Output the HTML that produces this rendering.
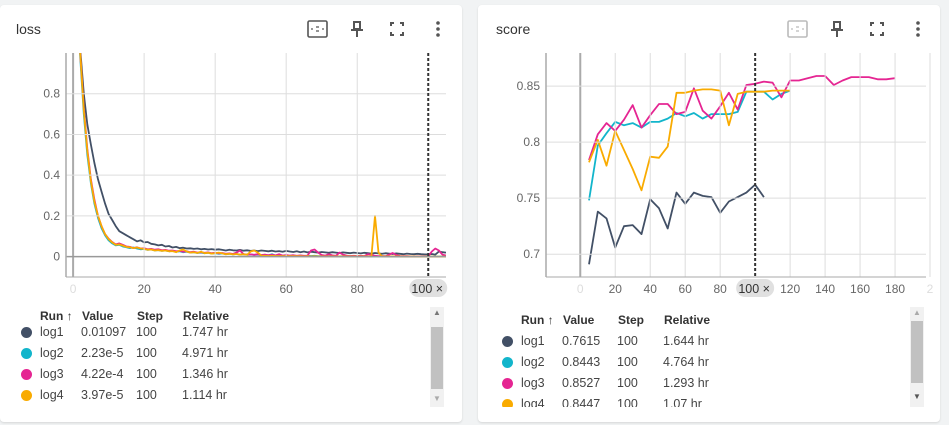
<!DOCTYPE html>
<html><head><meta charset="utf-8">
<style>
body{margin:0;width:949px;height:425px;background:#f1f3f4;font-family:"Liberation Sans",sans-serif;position:relative;overflow:hidden}
.card{position:absolute;background:#fff;border-radius:4px;box-shadow:0 1px 2px rgba(0,0,0,.12)}
.t{position:absolute;font-size:13px;color:#333;white-space:nowrap}
.h{font-weight:bold;color:#333;font-size:12px}
.r{font-size:12.5px;color:#444}
.dot{position:absolute;width:11px;height:11px;border-radius:50%}
.sb{position:absolute;width:14px;background:#f1f1f1}
.sb div{position:absolute;left:1px;width:12px;background:#c1c1c1}
svg{position:absolute;left:0;top:0}
</style></head><body>
<div class="card" style="left:0;top:5px;width:462px;height:417px"></div>
<div class="card" style="left:478px;top:5px;width:462px;height:417px"></div>
<div class="t" style="left:16px;top:21px;font-size:14px">loss</div>
<div class="t" style="left:496px;top:21px;font-size:14px">score</div>
<svg width="949" height="425" id="svg">
<g id="icons" fill="none" stroke="#555" stroke-width="1.6">
<rect x="308" y="21" width="19" height="16" rx="1.5"/>
<rect x="788" y="21" width="19" height="16" rx="1.5" stroke="#bbb"/>
<path d="M316,27h3M316,31h3M312,28v2M323,28v2" stroke-width="1.2"/>
<path d="M796,27h3M796,31h3M792,28v2M803,28v2" stroke-width="1.2" stroke="#bbb"/>
<path d="M353,22h8M354,22v7h6v-7M351,30h12M357,30v7" stroke-width="2"/>
<path d="M833,22h8M834,22v7h6v-7M831,30h12M837,30v7" stroke-width="2"/>
<path d="M391,26v-3h3M400,23h3v3M403,32v3h-3M394,35h-3v-3" stroke-width="2"/>
<path d="M871,26v-3h3M880,23h3v3M883,32v3h-3M874,35h-3v-3" stroke-width="2"/>
<g fill="#555" stroke="none">
<circle cx="438" cy="23" r="1.8"/><circle cx="438" cy="29" r="1.8"/><circle cx="438" cy="35" r="1.8"/>
<circle cx="918" cy="23" r="1.8"/><circle cx="918" cy="29" r="1.8"/><circle cx="918" cy="35" r="1.8"/>
</g>
</g>
</svg>

<div id="leg1"></div><div id="leg2"></div>
<div class="sb" style="left:430px;top:307px;height:100px"><div style="top:20px;height:62px"></div></div>
<div class="sb" style="left:910px;top:307px;height:100px"><div style="top:14px;height:62px"></div></div>
<div class="t" style="left:433px;top:308px;font-size:8px;color:#777">▲</div>
<div class="t" style="left:433px;top:394px;font-size:8px;color:#aaa">▼</div>
<div class="t" style="left:913px;top:308px;font-size:8px;color:#aaa">▲</div>
<div class="t" style="left:913px;top:392px;font-size:8px;color:#555">▼</div>

<script>
const runNames=["log1","log2","log3","log4"];
const colors=["#425066","#12b5cb","#e52592","#f9ab00"];
const lossVals=["0.01097","2.23e-5","4.22e-4","3.97e-5"];
const lossRel=["1.747 hr","4.971 hr","1.346 hr","1.114 hr"];
const scoreVals=["0.7615","0.8443","0.8527","0.8447"];
const scoreRel=["1.644 hr","4.764 hr","1.293 hr","1.07 hr"];
const lossXTicks=[0,20,40,60,80];
const lossYTicks=[0,0.2,0.4,0.6,0.8];
const scoreXTicks=[0,20,40,60,80,120,140,160,180,200];
const scoreYTicks=[0.7,0.75,0.8,0.85];
const loss1=[1.4,1.02,0.8,0.65,0.55,0.46,0.38,0.32,0.26,0.21,0.18,0.15,0.125,0.115,0.105,0.095,0.085,0.075,0.08,0.07,0.072,0.063,0.06,0.055,0.058,0.05,0.052,0.045,0.048,0.042,0.044,0.04,0.041,0.038,0.04,0.036,0.038,0.035,0.037,0.034,0.036,0.033,0.03,0.034,0.031,0.03,0.033,0.029,0.031,0.028,0.03,0.027,0.03,0.028,0.026,0.029,0.025,0.027,0.024,0.028,0.025,0.023,0.026,0.022,0.025,0.021,0.024,0.022,0.02,0.023,0.021,0.019,0.022,0.02,0.018,0.021,0.019,0.017,0.02,0.018,0.016,0.019,0.017,0.015,0.018,0.016,0.014,0.017,0.015,0.013,0.016,0.014,0.012,0.015,0.013,0.012,0.014,0.012,0.011,0.011,0.013,0.01,0.025,0.022,0.02];
const loss2=[1.4,0.98,0.7,0.5,0.36,0.26,0.19,0.14,0.105,0.08,0.065,0.055,0.058,0.05,0.046,0.042,0.045,0.04,0.036,0.038,0.033,0.035,0.03,0.032,0.028,0.03,0.026,0.028,0.024,0.026,0.022,0.024,0.02,0.022,0.018,0.02,0.017,0.019,0.015,0.017,0.014,0.016,0.012,0.014,0.011,0.013,0.01,0.012,0.009,0.011,0.008,0.01,0.007,0.009,0.006,0.012,0.005,0.008,0.004,0.006,0.004,0.005,0.003,0.005,0.003,0.004,0.003,0.004,0.002,0.003,0.002,0.003,0.002,0.002,0.001,0.002,0.001,0.002,0.001,0.001,0.001,0.001,0.001,0.001,0.001,0.001,0.001,0.001,0.0005,0.0005,0.0005,0.0005,0.0003,0.0003,0.0003,0.0002,0.0002,0.0001,0.0001,0.00002,0.00002,0.00002,0.00002,0.00002,0.00002];
const loss3=[1.4,1.0,0.73,0.53,0.38,0.28,0.2,0.15,0.11,0.088,0.072,0.06,0.065,0.058,0.05,0.048,0.042,0.046,0.04,0.041,0.036,0.038,0.034,0.036,0.031,0.033,0.029,0.03,0.026,0.028,0.024,0.026,0.022,0.024,0.02,0.022,0.019,0.021,0.017,0.019,0.016,0.018,0.014,0.016,0.013,0.02,0.03,0.012,0.01,0.011,0.009,0.012,0.008,0.01,0.007,0.009,0.006,0.012,0.005,0.008,0.005,0.007,0.004,0.006,0.004,0.005,0.03,0.035,0.02,0.008,0.005,0.012,0.006,0.004,0.02,0.01,0.005,0.003,0.004,0.003,0.004,0.003,0.012,0.01,0.004,0.002,0.003,0.002,0.01,0.018,0.008,0.003,0.002,0.002,0.001,0.001,0.001,0.001,0.001,0.0005,0.025,0.04,0.03,0.01,0.005];
const loss4=[1.4,1.0,0.72,0.52,0.37,0.27,0.2,0.15,0.11,0.086,0.07,0.058,0.06,0.054,0.048,0.046,0.042,0.045,0.04,0.038,0.034,0.035,0.03,0.032,0.028,0.03,0.026,0.027,0.022,0.03,0.035,0.025,0.02,0.022,0.018,0.024,0.017,0.019,0.015,0.017,0.02,0.016,0.012,0.014,0.011,0.013,0.01,0.012,0.009,0.025,0.03,0.02,0.005,0.004,0.003,0.004,0.003,0.003,0.002,0.003,0.002,0.002,0.002,0.002,0.001,0.002,0.001,0.002,0.001,0.001,0.001,0.001,0.001,0.001,0.001,0.001,0.001,0.001,0.001,0.001,0.001,0.001,0.001,0.001,0.2,0.02,0.001,0.001,0.001,0.001,0.001,0.001,0.0005,0.0005,0.0005,0.0005,0.0003,0.0003,0.0003,0.0002,0.0001,0.0001,0.0001,0.0001,0.0001];
const scoreSteps=[5,10,15,20,25,30,35,40,45,50,55,60,65,70,75,80,85,90,95,100,105,110,115,120,125,130,135,140,145,150,155,160,165,170,175,180];
const score1=[0.691,0.738,0.732,0.706,0.725,0.726,0.718,0.749,0.741,0.723,0.755,0.745,0.755,0.752,0.751,0.737,0.747,0.751,0.755,0.762,0.751];
const score2=[0.748,0.797,0.808,0.818,0.815,0.817,0.813,0.818,0.818,0.821,0.826,0.823,0.826,0.821,0.825,0.825,0.825,0.827,0.845,0.845,0.845,0.838,0.843,0.846];
const score3=[0.784,0.807,0.817,0.810,0.820,0.833,0.813,0.824,0.834,0.834,0.825,0.827,0.848,0.828,0.821,0.832,0.844,0.829,0.851,0.852,0.854,0.853,0.840,0.855,0.855,0.857,0.859,0.859,0.851,0.855,0.858,0.858,0.858,0.856,0.856,0.857];
const score4=[0.782,0.802,0.779,0.810,0.793,0.776,0.757,0.787,0.786,0.796,0.844,0.844,0.846,0.847,0.847,0.846,0.815,0.843,0.845,0.845,0.845,0.846,0.846,0.846];

const NS="http://www.w3.org/2000/svg";
const svg=document.getElementById('svg');
function mk(tag,attrs,parent){const e=document.createElementNS(NS,tag);for(const k in attrs)e.setAttribute(k,attrs[k]);(parent||svg).appendChild(e);return e;}
function chart(o){
  const L=o.L,R=o.R,T=53,B=277;
  const sx=v=>L+(v-o.x0)/(o.x1-o.x0)*(R-L);
  const sy=v=>B-(v-o.y0)/(o.y1-o.y0)*(B-T);
  const g=mk('g',{'clip-path':'url(#'+o.id+')'});
  const cp=mk('clipPath',{id:o.id});mk('rect',{x:L,y:T,width:R-L,height:B-T},cp);
  o.xt.forEach(v=>{const l=mk('line',{x1:sx(v),x2:sx(v),y1:T,y2:B,stroke:v===0?'#aaa':'#ddd','stroke-width':v===0?2:1});
    
    const t=mk('text',{x:sx(v),y:293,'text-anchor':'middle','font-size':12,fill:(v===0||v===200)?'#ddd':'#666','font-family':'Liberation Sans'});t.textContent=v===200?'2':String(v);
    });
  o.yt.forEach(v=>{const l=mk('line',{x1:L,x2:R,y1:sy(v),y2:sy(v),stroke:v===0?'#999':'#ddd','stroke-width':v===0?1.5:1});
    
    const t=mk('text',{x:L-6,y:sy(v)+4,'text-anchor':'end','font-size':12,fill:'#666','font-family':'Liberation Sans'});t.textContent=String(v);
    });
  mk('line',{x1:L,x2:L,y1:T,y2:B,stroke:'#aaa','stroke-width':1.5});
  mk('line',{x1:L,x2:R,y1:B,y2:B,stroke:'#aaa','stroke-width':1});
  o.series.forEach((s,i)=>{
    const xs=o.steps||s.map((_,j)=>j+1);
    const p=mk('path',{d:s.map((v,j)=>(j?'L':'M')+sx(xs[j]).toFixed(1)+','+sy(v).toFixed(1)).join(''),fill:'none',stroke:colors[i],'stroke-width':1.8,'stroke-linejoin':'round'},g);
    
    
  });
  const vl=mk('line',{x1:sx(100),x2:sx(100),y1:T,y2:B,stroke:'#333','stroke-width':2,'stroke-dasharray':'3,2'});
  
  const bx=sx(100);
  const r=mk('rect',{x:bx-19,y:279,width:38,height:18,rx:9,fill:'#e0e0e0'});
  
  const bt=mk('text',{x:bx-1,y:293,'text-anchor':'middle','font-size':12.5,fill:'#333','font-family':'Liberation Sans'});bt.textContent='100 ×';
  
}
chart({id:'c1',L:66,R:446,x0:-2,x1:105,y0:-0.1,y1:1.0,xt:lossXTicks,yt:lossYTicks,series:[loss1,loss2,loss3,loss4]});
chart({id:'c2',L:546,R:926,x0:-19.6,x1:197.7,y0:0.6797,y1:0.8795,xt:scoreXTicks,yt:scoreYTicks,steps:scoreSteps,series:[score1,score2,score3,score4]});

function legend(id,x,rowsY,hy,vals,rels,clip){
  const c=document.getElementById(id);
  let h='<div style="position:absolute;left:0;top:0;width:949px;height:'+clip+'px;overflow:hidden">';
  const hd=[['Run ↑',x+14],['Value',x+56],['Step',x+111],['Relative',x+157]];
  hd.forEach(a=>{h+='<div class="t h" style="left:'+a[1]+'px;top:'+hy+'px">'+a[0]+'</div>';});
  runNames.forEach((n,i)=>{const y=rowsY[i];
    h+='<div class="dot" style="left:'+(x-5)+'px;top:'+(y+2)+'px;background:'+colors[i]+'"></div>';
    h+='<div class="t r" style="left:'+(x+14)+'px;top:'+y+'px">'+n+'</div>';
    h+='<div class="t r" style="left:'+(x+55)+'px;top:'+y+'px">'+vals[i]+'</div>';
    h+='<div class="t r" style="left:'+(x+110)+'px;top:'+y+'px">100</div>';
    h+='<div class="t r" style="left:'+(x+156)+'px;top:'+y+'px">'+rels[i]+'</div>';});
  c.innerHTML=h+'</div>';
}
legend('leg1',26,[325,346,367,388],309,lossVals,lossRel,425);
legend('leg2',507,[334,355,376,397],313,scoreVals,scoreRel,407);
</script>
</body></html>
